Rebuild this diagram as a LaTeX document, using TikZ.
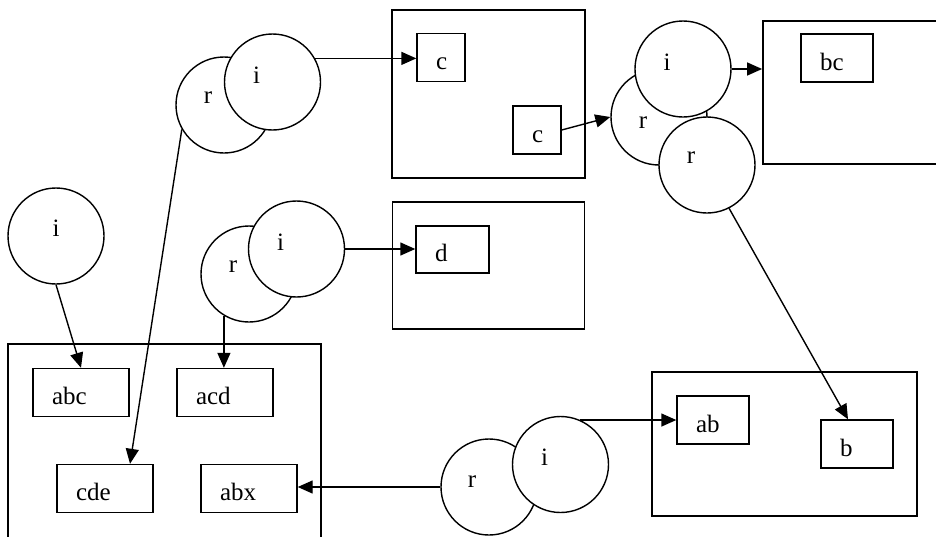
\documentclass[tikz,border=0pt]{standalone}
\usepackage{fontspec}
\setmainfont{Liberation Serif}
\usepackage{tikz}
\usetikzlibrary{arrows.meta}
\tikzstyle{st} = [draw, circle, fill=white, minimum size=96pt, inner sep=0pt]
\tikzstyle{lbl} = [xshift=-16pt, yshift=7pt]
\tikzstyle{blk} = [draw, fill=white, minimum height=48pt, inner xsep=19pt, align=left, text width=58pt, text height=24pt, text depth=0pt]
\tikzstyle{grp} = [draw, line width=1.8pt, inner sep=0pt]

\begin{document}
\begin{tikzpicture}[x=1pt, y=-1pt, line width=1.4pt, >={Triangle[length=15pt,width=13pt]}, font=\fontsize{25pt}{30pt}\selectfont]
  \useasboundingbox (0,0) rectangle (936,536);
  \clip (0,0) rectangle (936,536);
  \node[grp, minimum width=313pt, minimum height=197pt](g1) at (164.5,442.5){};
  \node[grp, minimum width=193pt, minimum height=168pt](g2) at (488.5,94){};
  \node[grp, minimum width=192pt, minimum height=127pt](g3) at (488.5,265.5){};
  \node[grp, minimum width=178pt, minimum height=143pt](g4) at (852,92.5){};
  \node[grp, minimum width=265pt, minimum height=144pt](g5) at (784.5,444){};
  \node[blk](abc) at (81,392.5){abc};
  \node[blk](acd) at (225,392.5){acd};
  \node[blk](cde) at (105,488.5){cde};
  \node[blk](abx) at (249,488.5){abx};
  \node[blk, text width=35pt, minimum height=47pt](d) at (452.5,249.5){d};
  \node[blk, text width=10pt](c1) at (441,57.5){c};
  \node[blk, text width=10pt](c2) at (537,130){c};
  \node[blk, text width=34pt](bc) at (837,58){bc};
  \node[blk, text width=34pt](ab) at (713,420){ab};
  \node[blk, text width=34pt](b) at (857,444){b};
  \node[st, label={[yshift=8pt]center:i}](i0) at (56,236){};
  \node[st, label={[lbl]center:r}](r1) at (224,105){};
  \node[st, label={[lbl]center:i}](i1) at (272.5,82){};
  \node[st, label={[lbl]center:r}](r3) at (249,274){};
  \node[st, label={[lbl]center:i}](i3) at (296.5,249){};
  \node[st, label={[xshift=-16pt, yshift=-6pt]center:r}](r4) at (659,117){};
  \node[st, label={[lbl]center:i}](i4) at (683,69){};
  \node[st, label={[lbl]center:r}](r5) at (707,165){};
  \node[st, label={[xshift=-17pt, yshift=5pt]center:r}](r6) at (489,487){};
  \node[st, label={[lbl]center:i}](i6) at (560.5,464.5){};
  \draw[->](i0.south)--(abc.north);
  \draw[->](r1.210)--([xshift=25pt]cde.north);
  \draw[->](i1.29)--(i1.29 -| c1.west);
  \draw[->](c2.east)--(r4.west);
  \draw[->](i4.east)--(i4.east -| g4.west);
  \draw[->](r5.297)--([xshift=-9pt]b.north);
  \draw[->](i3.east)--(i3.east -| d.west);
  \draw[->](r3.239)--(r3.239 |- acd.north);
  \draw[->](i6.66)--(i6.66 -| ab.west);
  \draw[->](r6.west)--(r6.west -| abx.east);
\end{tikzpicture}
\end{document}
